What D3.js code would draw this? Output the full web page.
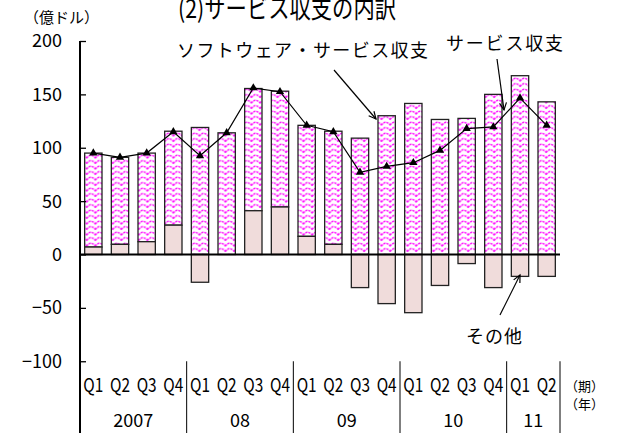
<!DOCTYPE html>
<html><head><meta charset="utf-8">
<script src="https://cdn.jsdelivr.net/npm/d3@7"></script>
<style>
html,body{margin:0;padding:0;background:#fff;}
svg{display:block;}
text{font-family:"Noto Sans CJK JP","Noto Sans",sans-serif;fill:#000;}
</style></head>
<body>
<script>
const quarters = ["Q1","Q2","Q3","Q4","Q1","Q2","Q3","Q4","Q1","Q2","Q3","Q4","Q1","Q2","Q3","Q4","Q1","Q2"];
const years = ["2007","08","09","10","11"];
const yearSpans = [4,4,4,4,2];
const software = [88, 81.5, 83, 88, 119, 114, 114.5, 108.5, 104, 106, 109, 130, 141.5, 126.5, 127.5, 150, 167.5, 143];
const other = [7, 9.5, 12, 27.5, -26, 0, 41, 44.5, 17, 9.5, -31, -46, -54.5, -29, -8.5, -31, -20.5, -20.5];
const services = [95, 91, 95, 115, 92.5, 114, 156, 152.5, 121, 115, 77, 82.5, 86, 97.5, 118, 119.5, 146.5, 121];
const yTicks = [-100, -50, 0, 50, 100, 150, 200];

const W = 620, H = 433;
const svg = d3.select("body").append("svg").attr("width", W).attr("height", H);

const idx = d3.range(quarters.length);
const x = d3.scaleBand().domain(idx).range([80, 560]).paddingInner(0.35).paddingOuter(0.175);
const y = d3.scaleLinear().domain([-100, 200]).range([361.25, 41]);

// pattern
const defs = svg.append("defs");
const pat = defs.append("pattern").attr("id", "wave").attr("patternUnits", "userSpaceOnUse")
  .attr("width", 8.67).attr("height", 5.5);
pat.append("rect").attr("width", 8.67).attr("height", 5.5).attr("fill", "#fff");
pat.append("path").attr("d", "M0,4.2 C2.2,0.2 6.4,0.2 8.67,4.2")
  .attr("fill", "none").attr("stroke", "#ff00ff").attr("stroke-width", 1.4).attr("stroke-dasharray", "2.2,0.9");

// title
svg.append("text").attr("x", 178).attr("y", 18).attr("font-size", 26)
  .attr("textLength", 218).attr("lengthAdjust", "spacingAndGlyphs").text("(2)サービス収支の内訳");
svg.append("text").attr("x", 24).attr("y", 23).attr("font-size", 15).text("（億ドル）");

// bars: software (pattern)
svg.append("g").selectAll("rect").data(idx).join("rect")
  .attr("x", i => x(i)).attr("width", x.bandwidth())
  .attr("y", i => y((other[i] > 0 ? other[i] : 0) + software[i]))
  .attr("height", i => y(other[i] > 0 ? other[i] : 0) - y((other[i] > 0 ? other[i] : 0) + software[i]))
  .attr("fill", "url(#wave)").attr("stroke", "#222").attr("stroke-width", 1.3);

// bars: other
svg.append("g").selectAll("rect").data(idx.filter(i => other[i] !== 0)).join("rect")
  .attr("x", i => x(i)).attr("width", x.bandwidth())
  .attr("y", i => y(Math.max(0, other[i])))
  .attr("height", i => Math.abs(y(other[i]) - y(0)))
  .attr("fill", "#f0dcdb").attr("stroke", "#222").attr("stroke-width", 1.3);

// y axis
const yAxis = d3.axisRight(y).tickValues(yTicks).tickSize(6).tickFormat("");
const ga = svg.append("g").attr("transform", "translate(80,0)").call(yAxis);
ga.select(".domain").remove();
ga.selectAll(".tick line").attr("stroke", "#000").attr("stroke-width", 1.3);
svg.append("line").attr("x1", 80).attr("x2", 80).attr("y1", y(200)).attr("y2", H)
  .attr("stroke", "#000").attr("stroke-width", 2);
svg.append("g").selectAll("text").data(yTicks).join("text")
  .attr("x", 62).attr("y", d => y(d)).attr("dy", "0.36em").attr("text-anchor", "end")
  .attr("font-size", 18).text(d => d < 0 ? "−" + Math.abs(d) : d);

// zero line
svg.append("line").attr("x1", 80).attr("x2", 560).attr("y1", y(0)).attr("y2", y(0))
  .attr("stroke", "#000").attr("stroke-width", 2);

// services line
const line = d3.line().x(i => x(i) + x.bandwidth() / 2).y(i => y(services[i]));
svg.append("path").datum(idx).attr("d", line).attr("fill", "none").attr("stroke", "#000").attr("stroke-width", 1.2);
svg.append("g").selectAll("path").data(idx).join("path")
  .attr("transform", i => `translate(${x(i) + x.bandwidth() / 2},${y(services[i])})`)
  .attr("d", d3.symbol(d3.symbolTriangle, 30)).attr("fill", "#000");

// x labels
const step = x.step();
svg.append("g").selectAll("text").data(idx).join("text")
  .attr("x", i => x(i) + x.bandwidth() / 2).attr("y", 392).attr("text-anchor", "middle")
  .attr("font-size", 19).attr("textLength", 20).attr("lengthAdjust", "spacingAndGlyphs")
  .text(i => quarters[i]);
let start = 0;
const bounds = [];
years.forEach((yr, k) => {
  const x0 = 80 + start * step, x1 = 80 + (start + yearSpans[k]) * step;
  bounds.push(x1);
  svg.append("text").attr("x", (x0 + x1) / 2).attr("y", 427).attr("text-anchor", "middle")
    .attr("font-size", 18).text(yr);
  start += yearSpans[k];
});
svg.append("g").selectAll("line").data(bounds).join("line")
  .attr("x1", d => d).attr("x2", d => d).attr("y1", y(-100)).attr("y2", H)
  .attr("stroke", "#000").attr("stroke-width", 1);
svg.append("text").attr("x", 565).attr("y", 391).attr("font-size", 13).text("（期）");
svg.append("text").attr("x", 565).attr("y", 409).attr("font-size", 13).text("（年）");

// annotations
const ann = svg.append("g");
ann.append("text").attr("x", 177).attr("y", 57).attr("font-size", 18)
  .attr("textLength", 251).attr("lengthAdjust", "spacing").text("ソフトウェア・サービス収支");
ann.append("text").attr("x", 446).attr("y", 50).attr("font-size", 18)
  .attr("textLength", 117).attr("lengthAdjust", "spacing").text("サービス収支");
ann.append("text").attr("x", 466).attr("y", 343).attr("font-size", 18)
  .attr("textLength", 56).attr("lengthAdjust", "spacing").text("その他");

function arrow(x1, y1, x2, y2) {
  ann.append("line").attr("x1", x1).attr("y1", y1).attr("x2", x2).attr("y2", y2)
    .attr("stroke", "#000").attr("stroke-width", 1.2);
  const a = Math.atan2(y2 - y1, x2 - x1), L = 8, s = 0.45;
  const p = [[x2 - L * Math.cos(a - s), y2 - L * Math.sin(a - s)], [x2, y2], [x2 - L * Math.cos(a + s), y2 - L * Math.sin(a + s)]];
  ann.append("path").attr("d", d3.line()(p)).attr("fill", "none").attr("stroke", "#000").attr("stroke-width", 1.2);
}
arrow(334, 70, 376, 119);
arrow(497, 59, 504, 110);
arrow(500, 315, 520, 275);
</script>
</body></html>
